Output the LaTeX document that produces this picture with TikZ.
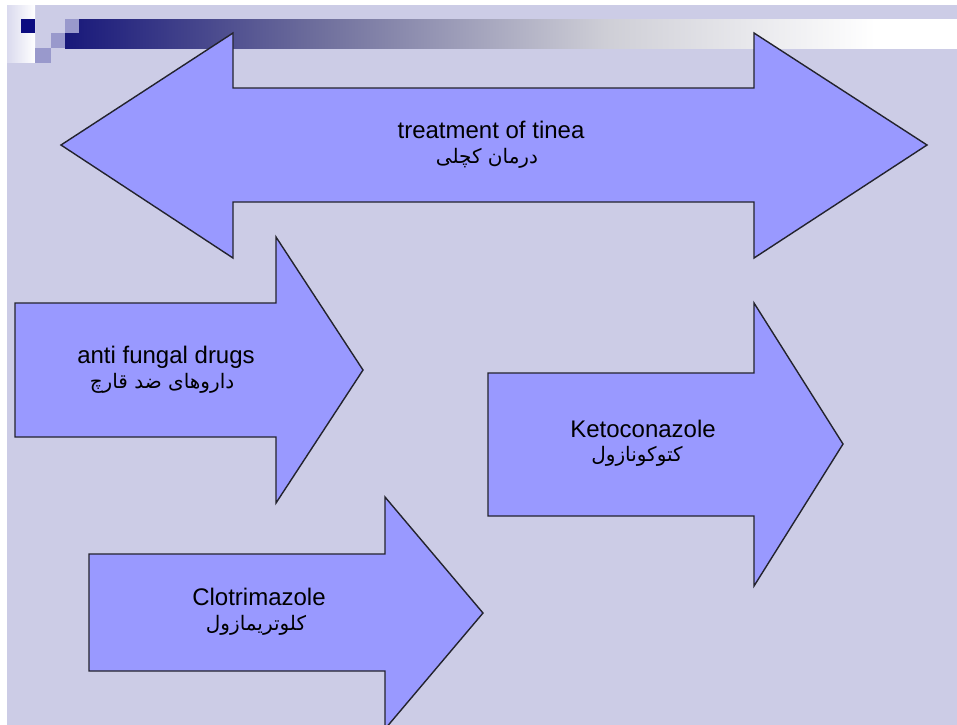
\documentclass[tikz,border=0pt]{standalone}
\usepackage{fontspec}
\setmainfont{Liberation Sans}
\newfontfamily\arabicfont[Script=Arabic]{DejaVu Sans}
\TeXXeTstate=1
\definecolor{bg}{RGB}{204,204,230}
\definecolor{bglight}{RGB}{218,218,238}
\definecolor{arrowfill}{RGB}{153,153,255}
\definecolor{edge}{RGB}{35,35,45}
\definecolor{navy}{RGB}{12,12,128}
\definecolor{sq}{RGB}{153,153,204}
\definecolor{cA}{RGB}{24,24,122}
\definecolor{cB}{RGB}{110,110,156}
\definecolor{cC}{RGB}{206,206,214}
\pgfdeclarehorizontalshading{barshade}{100bp}{color(0bp)=(cA); color(25bp)=(cA); color(39bp)=(cB); color(55bp)=(cC); color(70bp)=(white); color(100bp)=(white)}
\tikzset{
  blockarrow/.style={fill=arrowfill, draw=edge, line width=1.4pt, line join=miter},
  entext/.style={anchor=base, inner sep=0pt, text=black, font=\fontsize{24}{28}\selectfont},
  fatext/.style={anchor=base, inner sep=0pt, text=black, font=\arabicfont\fontsize{20}{24}\selectfont},
}
\begin{document}
\begin{tikzpicture}[x=1pt,y=-1pt]
\useasboundingbox (0,0) rectangle (957,724);
\begin{scope}
\clip (-5,-5) rectangle (965,732);
% background
\fill[white] (-5,-5) rectangle (965,732);
\fill[bg] (7,5) rectangle (965,732);
% top-left decoration
\shade[left color=bglight, right color=white] (7,5) rectangle (35,62);
\shade[shading=barshade] (65,19) rectangle (965,48);
\fill[navy] (21,19) rectangle (35,33);
\fill[sq] (65,19) rectangle (79,33);
\fill[sq] (51,33) rectangle (65,48);
\fill[sq] (35,48) rectangle (51,63);
% double arrow
\draw[blockarrow] (61,145) -- (233,33) -- (233,88) -- (754,88) -- (754,33) -- (927,145)
  -- (754,258) -- (754,202) -- (233,202) -- (233,258) -- cycle;
% anti fungal arrow
\draw[blockarrow] (15,303) -- (276,303) -- (276,237) -- (363,370) -- (276,503) -- (276,437) -- (15,437) -- cycle;
% ketoconazole arrow
\draw[blockarrow] (488,373) -- (754,373) -- (754,303) -- (843,444) -- (754,586) -- (754,516) -- (488,516) -- cycle;
% clotrimazole arrow
\draw[blockarrow] (89,554) -- (385,554) -- (385,497) -- (483,613) -- (385,729) -- (385,671) -- (89,671) -- cycle;
\end{scope}
% labels
\node[entext] (tinea) at (491,138) {treatment of tinea};
\node[fatext] (tineafa) at (487,163) {\beginR درمان کچلی\endR};
\node[entext] (antif) at (166,363) {anti fungal drugs};
\node[fatext] (antiffa) at (162,388) {\beginR داروهای ضد قارچ\endR};
\node[entext] (keto) at (643,437) {Ketoconazole};
\node[fatext] (ketofa) at (637,461) {\beginR کتوکونازول\endR};
\node[entext] (clotri) at (259,605) {Clotrimazole};
\node[fatext] (clotrifa) at (256,630) {\beginR کلوتریمازول\endR};
\end{tikzpicture}
\end{document}
